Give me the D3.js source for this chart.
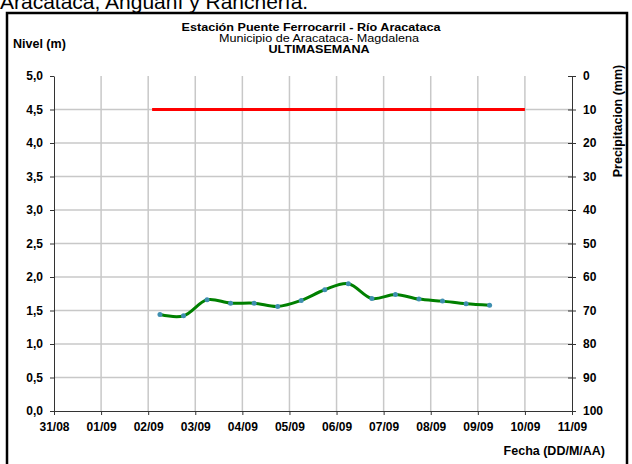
<!DOCTYPE html>
<html lang="es">
<head>
<meta charset="UTF-8">
<title>Estación Puente Ferrocarril - Río Aracataca</title>
<script src="https://d3js.org/d3.v7.min.js"></script>
<style>
    body { margin: 0; background: #fff; }
    svg { display: block; font-family: "Liberation Sans", Arial, sans-serif; }
    .grid line { stroke: #c8c8c8; stroke-width: 1.5px; }
    .axis path, .axis line { stroke: #333; stroke-width: 1px; }
    .axis text { font-size: 12px; font-weight: bold; fill: #000; }
    .lbl { font-size: 12.5px; font-weight: bold; fill: #000; }
    .tit { font-size: 10.5px; }
</style>
</head>
<body>
<div id="chart"></div>
<script>
// fechas de las lecturas (cada 12 horas) y nivel en metros
var fechas = ["2010-09-02T06", "2010-09-02T18", "2010-09-03T06", "2010-09-03T18",
              "2010-09-04T06", "2010-09-04T18", "2010-09-05T06", "2010-09-05T18",
              "2010-09-06T06", "2010-09-06T18", "2010-09-07T06", "2010-09-07T18",
              "2010-09-08T06", "2010-09-08T18", "2010-09-09T06"];
var nivel = [1.44, 1.42, 1.66, 1.61, 1.61, 1.56, 1.65, 1.81, 1.90, 1.68, 1.74, 1.67, 1.64, 1.60, 1.58];

// linea de alerta (roja)
var alertaFechas = ["2010-09-02T02", "2010-09-10T00"];
var alertaNivel = [4.5, 4.5];

var ejeX = ["31/08", "01/09", "02/09", "03/09", "04/09", "05/09", "06/09", "07/09", "08/09", "09/09", "10/09", "11/09"];
var ejeY = [0, 0.5, 1, 1.5, 2, 2.5, 3, 3.5, 4, 4.5, 5];
var ejePrecip = [0, 10, 20, 30, 40, 50, 60, 70, 80, 90, 100];

var parse = d3.timeParse("%Y-%m-%dT%H");

function init() {
    var w = 632, h = 464;
    var left = 54, right = 572, top = 76, bottom = 411;

    var svg = d3.select("#chart").append("svg")
        .attr("width", w)
        .attr("height", h);

    // texto cortado arriba
    svg.append("text")
        .attr("x", 0)
        .attr("y", 9)
        .style("font-size", "21px")
        .text("Aracataca, Anguaní y Ranchería.");

    // marco
    svg.append("rect")
        .attr("x", 7).attr("y", 13)
        .attr("width", 620).attr("height", 470)
        .attr("fill", "none")
        .attr("stroke", "#000")
        .attr("stroke-width", 2.5);

    var xScale = d3.scaleTime()
        .domain([parse("2010-08-31T00"), parse("2010-09-11T00")])
        .range([left, right]);

    var yScale = d3.scaleLinear().domain([0, 5]).range([bottom, top]);
    var pScale = d3.scaleLinear().domain([0, 100]).range([top, bottom]);

    var dias = ejeX.map(function(d, i) { return d3.timeDay.offset(xScale.domain()[0], i); });

    // rejilla
    var grid = svg.append("g").attr("class", "grid");
    grid.selectAll(".v").data(dias.slice(1, -1)).enter().append("line")
        .attr("x1", function(d) { return xScale(d); })
        .attr("x2", function(d) { return xScale(d); })
        .attr("y1", top).attr("y2", bottom);
    grid.selectAll(".h").data(ejeY.slice(1, -1)).enter().append("line")
        .attr("x1", left).attr("x2", right)
        .attr("y1", function(d) { return yScale(d); })
        .attr("y2", function(d) { return yScale(d); });

    // ejes
    svg.append("g").attr("class", "axis")
        .attr("transform", "translate(" + left + ",0)")
        .call(d3.axisLeft(yScale).tickValues(ejeY).tickSize(4).tickSizeOuter(0)
            .tickFormat(function(d) { return d3.format(".1f")(d).replace(".", ","); }))
        .selectAll("text").attr("x", -11);

    var ax = svg.append("g").attr("class", "axis")
        .attr("transform", "translate(" + right + ",0)")
        .call(d3.axisRight(pScale).tickValues(ejePrecip).tickSize(4).tickSizeOuter(0));
    ax.selectAll(".tick line").attr("x1", -4);
    ax.selectAll("text").attr("x", 11);

    svg.append("g").attr("class", "axis")
        .attr("transform", "translate(0," + bottom + ")")
        .call(d3.axisBottom(xScale).tickValues(dias).tickSize(4).tickSizeOuter(0)
            .tickFormat(function(d, i) { return ejeX[i]; }))
        .selectAll("text").attr("y", 11);

    // linea roja
    var alerta = alertaFechas.map(function(d, i) { return { t: parse(d), v: alertaNivel[i] }; });
    svg.append("path").datum(alerta)
        .attr("fill", "none")
        .attr("stroke", "#ff0000")
        .attr("stroke-width", 3)
        .attr("d", d3.line()
            .x(function(d) { return xScale(d.t); })
            .y(function(d) { return yScale(d.v); }));

    // serie de nivel
    var datos = fechas.map(function(d, i) { return { t: parse(d), v: nivel[i] }; });
    svg.append("path").datum(datos)
        .attr("fill", "none")
        .attr("stroke", "#008000")
        .attr("stroke-width", 3)
        .attr("d", d3.line().curve(d3.curveCatmullRom.alpha(0.5))
            .x(function(d) { return xScale(d.t); })
            .y(function(d) { return yScale(d.v); }));

    svg.selectAll(".pt").data(datos).enter().append("circle")
        .attr("cx", function(d) { return xScale(d.t); })
        .attr("cy", function(d) { return yScale(d.v); })
        .attr("r", 2.5)
        .attr("fill", "#3f8fb0");

    // titulos (algo estirados a lo ancho, como en el original)
    var titulos = [
        { t: "Estación Puente Ferrocarril - Río Aracataca", x: 311, y: 31, b: true },
        { t: "Municipio de Aracataca- Magdalena", x: 319, y: 42, b: false },
        { t: "ULTIMASEMANA", x: 319, y: 53, b: true }
    ];
    svg.selectAll(".tit").data(titulos).enter().append("text")
        .attr("class", "tit")
        .attr("text-anchor", "middle")
        .attr("transform", function(d) { return "translate(" + d.x + "," + d.y + ") scale(1.2,1)"; })
        .style("font-weight", function(d) { return d.b ? "bold" : "normal"; })
        .text(function(d) { return d.t; });

    svg.append("text").attr("class", "lbl").attr("x", 13).attr("y", 48).text("Nivel (m)");
    svg.append("text").attr("class", "lbl").attr("x", 605).attr("y", 455)
        .attr("text-anchor", "end").text("Fecha (DD/M/AA)");
    svg.append("text").attr("class", "lbl")
        .attr("transform", "translate(622,121) rotate(-90)")
        .attr("text-anchor", "middle")
        .text("Precipitacion (mm)");
}

init();
</script>
</body>
</html>
